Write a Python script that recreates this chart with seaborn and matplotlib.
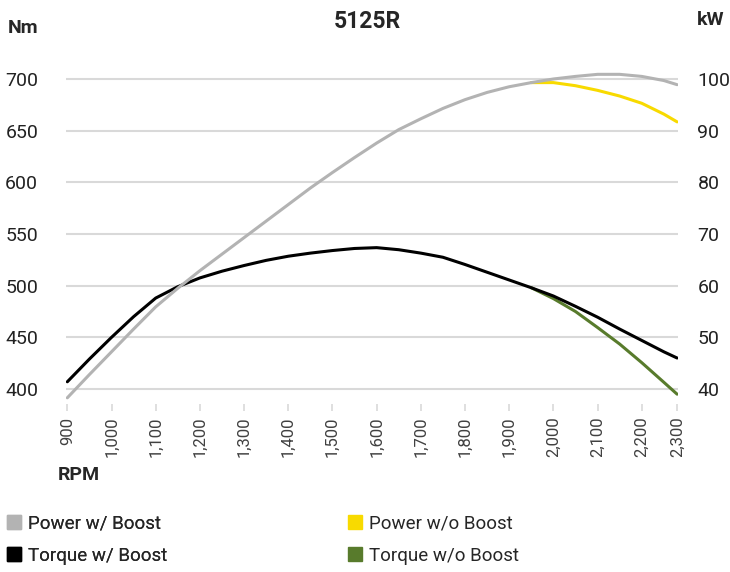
import matplotlib
matplotlib.use('Agg')
import matplotlib.pyplot as plt
from matplotlib.lines import Line2D
import seaborn as sns

# Data (every 50 rpm)
rpm = [900, 950, 1000, 1050, 1100, 1150, 1200, 1250, 1300, 1350, 1400, 1450, 1500, 1550,
       1600, 1650, 1700, 1750, 1800, 1850, 1900, 1950, 2000, 2050, 2100, 2150, 2200, 2250, 2280]
torque_boost = [407, 429, 450, 470, 488, 499, 507.5, 514, 519.5, 524.5, 528.5, 531.5, 534, 536,
                536.8, 534.8, 531.5, 527.5, 520.5, 513, 505.5, 498, 490, 480, 469.5, 458, 447, 436, 430]
power_boost = [38.3, 42.8, 47.2, 51.6, 55.9, 59.5, 62.9, 66.1, 69.3, 72.5, 75.7, 78.9, 81.9, 84.8,
               87.6, 90.2, 92.3, 94.3, 96.0, 97.4, 98.5, 99.3, 100.0, 100.5, 100.9, 100.9, 100.5, 99.7, 98.9]

rpm_no_boost = [1950, 2000, 2050, 2100, 2150, 2200, 2250, 2280]
torque_no_boost = [498, 487.5, 475, 459.5, 443.5, 425.5, 406.5, 395]
power_no_boost = [99.3, 99.3, 98.7, 97.8, 96.7, 95.3, 93.2, 91.7]

rpm_ticks = [900, 1000, 1100, 1200, 1300, 1400, 1500, 1600, 1700, 1800, 1900, 2000, 2100, 2200, 2280]
rpm_labels = ['900', '1,000', '1,100', '1,200', '1,300', '1,400', '1,500', '1,600',
              '1,700', '1,800', '1,900', '2,000', '2,100', '2,200', '2,300']
nm_ticks = [400, 450, 500, 550, 600, 650, 700]
kw_ticks = [40, 50, 60, 70, 80, 90, 100]

c_grey = '#b3b3b3'
c_yellow = '#f8da00'
c_black = '#000000'
c_green = '#587b2c'
grid_c = '#d9d9d9'

sns.set_style('white')
plt.rcParams['font.family'] = ['Roboto', 'DejaVu Sans']

fig = plt.figure(figsize=(7.3, 5.72), dpi=100)
ax = fig.add_axes([66 / 730, 1 - 404 / 572, (678 - 66) / 730, (404 - 70) / 572])
ax2 = ax.twinx()

# torque on the left axis
sns.lineplot(x=rpm_no_boost, y=torque_no_boost, ax=ax, color=c_green, lw=2.2, zorder=3)
sns.lineplot(x=rpm, y=torque_boost, ax=ax, color=c_black, lw=2.2, zorder=4)

# power on the right axis
sns.lineplot(x=rpm_no_boost, y=power_no_boost, ax=ax2, color=c_yellow, lw=2.2, zorder=3)
sns.lineplot(x=rpm, y=power_boost, ax=ax2, color=c_grey, lw=2.2, zorder=4)

ax.set_xlim(897, 2282)
ax.set_ylim(385.5, 708.7)
ax2.set_ylim(40 + (385.5 - 400) / 5, 40 + (708.7 - 400) / 5)

ax.set_yticks(nm_ticks)
ax2.set_yticks(kw_ticks)
ax.set_xticks(rpm_ticks)
ax.set_xticklabels(rpm_labels, rotation=90)

ax.grid(axis='y', color=grid_c, lw=1.5)
ax.set_axisbelow(True)
for a in (ax, ax2):
    for s in a.spines.values():
        s.set_visible(False)
    a.set_xlabel('')
    a.set_ylabel('')

ax.tick_params(axis='x', length=5, width=1.2, color=grid_c, pad=4, labelsize=12, labelcolor='#404040',
               bottom=True)
ax.tick_params(axis='y', length=0, pad=20, labelsize=14, labelcolor='#222222')
ax2.tick_params(axis='y', length=0, pad=14, labelsize=14, labelcolor='#222222')

fig.text(367 / 730, 1 - 22 / 572, '5125R', ha='center', va='center', fontsize=16.5, fontweight='bold')
fig.text(8 / 730, 1 - 28 / 572, 'Nm', ha='left', va='center', fontsize=14, fontweight='bold')
fig.text(697 / 730, 1 - 20 / 572, 'kW', ha='left', va='center', fontsize=14, fontweight='bold')
fig.text(58 / 730, 1 - 475 / 572, 'RPM', ha='left', va='center', fontsize=14, fontweight='bold')

def sq(c):
    return Line2D([], [], marker='s', color=c, ls='none', markersize=9.5)

leg_kw = dict(loc='center left', frameon=False, fontsize=13.5, handlelength=0.7,
              handletextpad=0.4, labelspacing=0.75, borderpad=0, borderaxespad=0)
leg1 = fig.legend([sq(c_grey), sq(c_black)], ['Power w/ Boost', 'Torque w/ Boost'],
                  bbox_to_anchor=(7 / 730, 1 - 540 / 572), **leg_kw)
leg2 = fig.legend([sq(c_yellow), sq(c_green)], ['Power w/o Boost', 'Torque w/o Boost'],
                  bbox_to_anchor=(348 / 730, 1 - 540 / 572), **leg_kw)
fig.add_artist(leg1)

fig.savefig('out.png', dpi=100)
